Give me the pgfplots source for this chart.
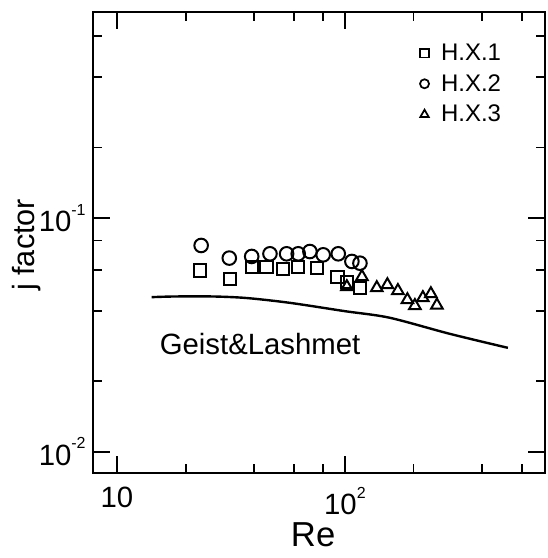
\documentclass[border=0pt]{standalone}
\usepackage{fontspec}
\setmainfont{Liberation Sans}
\usepackage{pgfplots}
\pgfplotsset{compat=1.18}
\newcommand{\sups}[1]{\raisebox{0.55em}{\fontsize{12}{12}\selectfont #1}}
\begin{document}
\begin{tikzpicture}
\path[use as bounding box] (-69.75pt,-63.75pt) rectangle (341.25pt,354.75pt);
\begin{axis}[
  at={(0,0)}, anchor=south west,
  scale only axis, width=339pt, height=345.75pt,
  xmode=log, ymode=log,
  xmin=7.85, xmax=755, ymin=0.0081, ymax=0.76,
  xtick={10,100}, xticklabels={10,10\sups{2}},
  ytick={0.01,0.1}, yticklabels={10\sups{-2},10\sups{-1}},
  minor xtick={20,40,60,80,200,400,600},
  minor ytick={0.02,0.04,0.06,0.08,0.2,0.4,0.6},
  tick align=inside,
  major tick length=13pt, minor tick length=7pt,
  every tick/.style={black, line width=1.4pt},
  axis line style={line width=1.6pt},
  tick label style={font=\fontsize{22}{26}\selectfont},
  xticklabel style={yshift=-7pt},
  yticklabel style={xshift=-2pt},
  xlabel={Re},
  xlabel style={at={(axis description cs:0.487,-0.135)}, anchor=center, font=\fontsize{26}{30}\selectfont},
  ylabel={j factor},
  ylabel style={at={(axis description cs:-0.146,0.495)}, anchor=center, font=\fontsize{23}{27}\selectfont},
  legend style={draw=none, fill=none, at={(axis description cs:0.714,0.943)}, anchor=north west,
    font=\fontsize{18}{21}\selectfont, row sep=5pt,
    /tikz/every odd column/.append style={column sep=7pt}},
  legend cell align=left,
]
% Geist & Lashmet correlation
\addplot[black, line width=1.8pt, smooth, forget plot] coordinates {
 (14.2,0.0458) (17.9,0.0461) (26.4,0.0461) (37.1,0.0454) (57.4,0.0433)
 (100,0.0399) (157,0.0374) (289,0.0319) (519,0.0278)
};
% H.X.1
\addplot[only marks, mark=square, mark size=4.6pt, line width=1.5pt, black, forget plot] coordinates {
 (23.1,0.0596) (31.3,0.0547) (39.0,0.0616) (45.3,0.0616) (53.6,0.0604)
 (62.4,0.0616) (75.2,0.0610) (92.7,0.0560) (102,0.0533) (116.4,0.0501)
};
% H.X.2
\addplot[only marks, mark=o, mark size=5.1pt, line width=1.5pt, black, forget plot] coordinates {
 (23.4,0.0762) (31.1,0.0673) (39.0,0.0684) (46.9,0.0702) (55.5,0.0702)
 (62.4,0.0702) (70.2,0.0718) (80.3,0.0695) (93.5,0.0702) (107.3,0.0651) (116.4,0.0640)
};
% H.X.3
\addplot[only marks, mark=triangle, mark size=5pt, line width=1.5pt, black, forget plot] coordinates {
 (102,0.0507) (118.8,0.0560) (138,0.0502) (153.6,0.0517) (170.8,0.0488)
 (188,0.0446) (202.8,0.0421) (219.8,0.0455) (238.3,0.0473) (253.3,0.0423)
};
\addlegendimage{only marks, mark=square, mark size=3.2pt, line width=1.3pt, black}
\addlegendentry{H.X.1}
\addlegendimage{only marks, mark=o, mark size=3.4pt, line width=1.3pt, black}
\addlegendentry{H.X.2}
\addlegendimage{only marks, mark=triangle, mark size=3.6pt, line width=1.3pt, black}
\addlegendentry{H.X.3}
\node[anchor=base west, font=\fontsize{22}{26}\selectfont] at (axis cs:14.7,0.026) {Geist\&Lashmet};
\end{axis}
\end{tikzpicture}
\end{document}
